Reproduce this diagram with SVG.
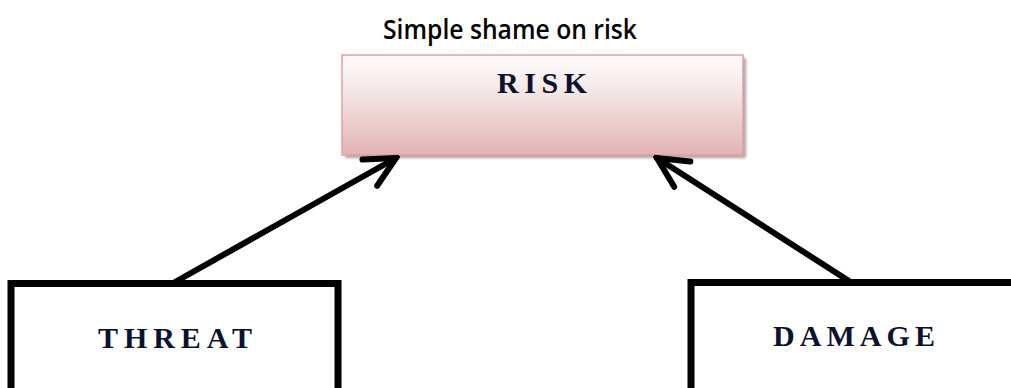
<svg xmlns="http://www.w3.org/2000/svg" width="1011" height="388" viewBox="0 0 1011 388">
<style>
.lbl{font-family:"Liberation Serif","Times New Roman",serif;font-weight:bold;font-size:30px;fill:#0b1230;}
.box{fill:#fff;stroke:#000;stroke-width:7;}
.con{stroke:#000;stroke-width:6;fill:none;stroke-linecap:round;}
</style>
<defs>
<linearGradient id="pink" x1="0" y1="0" x2="0" y2="1">
<stop offset="0" stop-color="#fefcfc"/>
<stop offset="0.35" stop-color="#f6e7e7"/>
<stop offset="1" stop-color="#e2b3b3"/>
</linearGradient>
<filter id="sh" x="-5%" y="-10%" width="110%" height="130%">
<feGaussianBlur stdDeviation="1.5"/>
</filter>
<marker id="head" markerUnits="userSpaceOnUse" viewBox="-36 -20 40 40" refX="0" refY="0" markerWidth="40" markerHeight="40" orient="auto">
<path d="M -30,-15 L 0,0 L -30,15" fill="none" stroke="#000" stroke-width="6" stroke-linecap="round" stroke-linejoin="miter"/>
</marker>
</defs>
<rect width="1011" height="388" fill="#fff"/>
<text x="510" y="39" text-anchor="middle" font-family="'Open Sans',sans-serif" font-weight="600" font-size="27" fill="#000" textLength="254" lengthAdjust="spacingAndGlyphs">Simple shame on risk</text>
<g id="risk">
<rect x="345" y="58" width="401" height="100" fill="#9a8a8a" filter="url(#sh)" opacity="0.8"/>
<rect x="342" y="55" width="401" height="100" fill="url(#pink)" stroke="#dea2a2" stroke-width="1.5"/>
<text class="lbl" x="497" y="93" textLength="90" lengthAdjust="spacing">RISK</text>
</g>
<g id="threat">
<rect class="box" x="11" y="283.5" width="327" height="120"/>
<text class="lbl" x="98" y="348" textLength="154" lengthAdjust="spacing">THREAT</text>
</g>
<g id="damage">
<rect class="box" x="691" y="282.5" width="340" height="120"/>
<text class="lbl" x="773" y="346" textLength="162" lengthAdjust="spacing">DAMAGE</text>
</g>
<g id="connectors">
<path class="con" d="M 175,282 L 396,158" marker-end="url(#head)"/>
<path class="con" d="M 849,281 L 657,158" marker-end="url(#head)"/>
</g>
</svg>
